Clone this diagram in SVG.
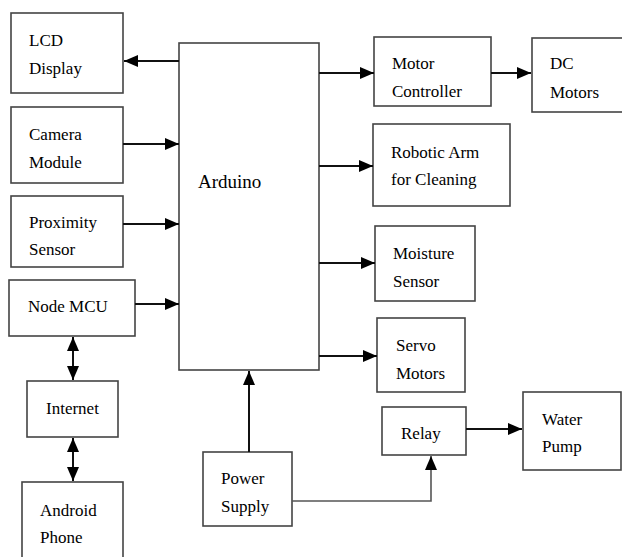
<svg xmlns="http://www.w3.org/2000/svg" width="622" height="557" viewBox="0 0 622 557">
<defs>
<marker id="ah" markerUnits="userSpaceOnUse" markerWidth="14" markerHeight="12" refX="14" refY="6" orient="auto-start-reverse">
<path d="M0,0 L14,6 L0,12 z" fill="#000"/>
</marker>
</defs>
<style>
rect{fill:#fff;stroke:#444;stroke-width:1.6}
text{font-family:'Liberation Serif','Times New Roman',serif;font-size:17px;fill:#000}
.big{font-size:19px}
#connectors path{fill:none;stroke:#111;stroke-width:2}
#connectors .thin{stroke:#555;stroke-width:1.6}
</style>
<rect x="0" y="0" width="622" height="557" style="stroke:none"/>
<g font-family="Liberation Serif, serif">
<g id="arduino"><rect x="179" y="43" width="140" height="327"/><text class="big" x="198" y="188">Arduino</text></g>
<g id="lcd"><rect x="11" y="13" width="112" height="80"/><text x="29" y="46">LCD</text><text x="29" y="74">Display</text></g>
<g id="camera"><rect x="11" y="107" width="112" height="76"/><text x="29" y="140">Camera</text><text x="29" y="168">Module</text></g>
<g id="proximity"><rect x="11" y="196" width="112" height="71"/><text x="29" y="228">Proximity</text><text x="29" y="255">Sensor</text></g>
<g id="nodemcu"><rect x="9" y="280" width="126" height="56"/><text x="28" y="312">Node MCU</text></g>
<g id="internet"><rect x="27" y="381" width="91" height="56"/><text x="46" y="414">Internet</text></g>
<g id="android"><rect x="22" y="482" width="101" height="80"/><text x="40" y="516">Android</text><text x="40" y="543">Phone</text></g>
<g id="power"><rect x="203" y="452" width="89" height="74"/><text x="221" y="484">Power</text><text x="221" y="512">Supply</text></g>
<g id="motorctrl"><rect x="374" y="37" width="117" height="69"/><text x="392" y="69">Motor</text><text x="392" y="97">Controller</text></g>
<g id="dcmotors"><rect x="532" y="38" width="94" height="74"/><text x="550" y="69">DC</text><text x="550" y="98">Motors</text></g>
<g id="arm"><rect x="373" y="124" width="137" height="82"/><text x="391" y="158">Robotic Arm</text><text x="391" y="185">for Cleaning</text></g>
<g id="moisture"><rect x="375" y="226" width="100" height="75"/><text x="393" y="259">Moisture</text><text x="393" y="287">Sensor</text></g>
<g id="servo"><rect x="377" y="318" width="88" height="74"/><text x="396" y="351">Servo</text><text x="396" y="379">Motors</text></g>
<g id="relay"><rect x="382" y="407" width="84" height="48"/><text x="401" y="439">Relay</text></g>
<g id="waterpump"><rect x="523" y="392" width="98" height="78"/><text x="542" y="425">Water</text><text x="542" y="452">Pump</text></g>
</g>
<g id="connectors">
<path d="M179,61 H124" marker-end="url(#ah)"/>
<path d="M123,144 H179" marker-end="url(#ah)"/>
<path d="M123,224 H179" marker-end="url(#ah)"/>
<path d="M135,304 H179" marker-end="url(#ah)"/>
<path d="M73,337 V380" marker-start="url(#ah)" marker-end="url(#ah)"/>
<path d="M73,438 V481" marker-start="url(#ah)" marker-end="url(#ah)"/>
<path d="M249,452 V371" marker-end="url(#ah)"/>
<path class="thin" d="M292,501 H431 V456" marker-end="url(#ah)"/>
<path d="M319,73 H374" marker-end="url(#ah)"/>
<path d="M491,73 H531" marker-end="url(#ah)"/>
<path d="M319,166 H373" marker-end="url(#ah)"/>
<path d="M319,263 H375" marker-end="url(#ah)"/>
<path d="M319,356 H377" marker-end="url(#ah)"/>
<path d="M466,429 H522" marker-end="url(#ah)"/>
</g>
</svg>
